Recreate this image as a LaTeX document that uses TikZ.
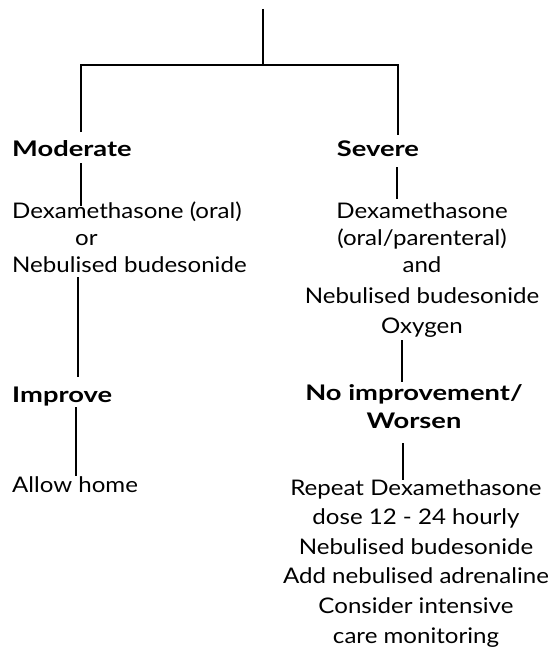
\documentclass[tikz,border=0pt]{standalone}
\usepackage{fontspec}
\setmainfont{Lato}[FakeStretch=1.12]
\newfontfamily\hdfont{Lato}[FakeStretch=1.27]
\begin{document}
\begin{tikzpicture}[x=1pt,y=-1pt,
  txt/.style={inner sep=0pt,font=\fontsize{21.5}{27}\selectfont},
  head/.style={txt,font=\fontsize{21.5}{28}\selectfont\hdfont\bfseries},
  conn/.style={line width=1.3pt,black}]
\useasboundingbox (0,0) rectangle (551,650);

% text nodes (multi-line nodes are placed by their last baseline)
\node[head,anchor=base west] (mod) at (12,157) {Moderate};
\node[head,anchor=base] (sev) at (378,157) {Severe};
\node[txt,anchor=base west,align=left] (modtx) at (12,272)
  {Dexamethasone (oral)\\\hspace*{63pt}or\\Nebulised budesonide};
\node[txt,anchor=base,align=center] (sevtx) at (422,333)
  {Dexamethasone\\(oral/parenteral)\\and\\[4pt]Nebulised budesonide\\[3pt]Oxygen};
\node[head,anchor=base west] (imp) at (12,402) {Improve};
\node[head,anchor=base,align=center] (worse) at (414,428)
  {No improvement/\\Worsen};
\node[txt,anchor=base west] (home) at (12,492) {Allow home};
\node[txt,anchor=base,align=center,font=\fontsize{21.5}{29.6}\selectfont] (icu) at (416,643)
  {Repeat Dexamethasone\\dose 12 - 24 hourly\\Nebulised budesonide\\Add nebulised adrenaline\\Consider intensive\\care monitoring};

% connector end points
\coordinate (top) at (263,9);
\coordinate (hub) at (263,65);
\coordinate (lcorner) at (81,65);
\coordinate (rcorner) at (398,65);
\coordinate (modin) at (81,132);
\coordinate (sevin) at (398,135);
\coordinate (modout) at (81,163);
\coordinate (modtxin) at (81,206);
\coordinate (sevout) at (397,167);
\coordinate (sevtxin) at (397,199);
\coordinate (modtxout) at (78,277);
\coordinate (impin) at (78,377);
\coordinate (impout) at (76,407);
\coordinate (homein) at (76,476);
\coordinate (sevtxout) at (402,340);
\coordinate (worsein) at (402,382);
\coordinate (worseout) at (403,443);
\coordinate (icuin) at (403,480);

% connectors
\draw[conn] (top) -- (hub);
\draw[conn] (modin) -- (lcorner) -- (rcorner) -- (sevin);
\draw[conn] (modout) -- (modtxin);
\draw[conn] (sevout) -- (sevtxin);
\draw[conn] (modtxout) -- (impin);
\draw[conn] (impout) -- (homein);
\draw[conn] (sevtxout) -- (worsein);
\draw[conn] (worseout) -- (icuin);
\end{tikzpicture}
\end{document}
